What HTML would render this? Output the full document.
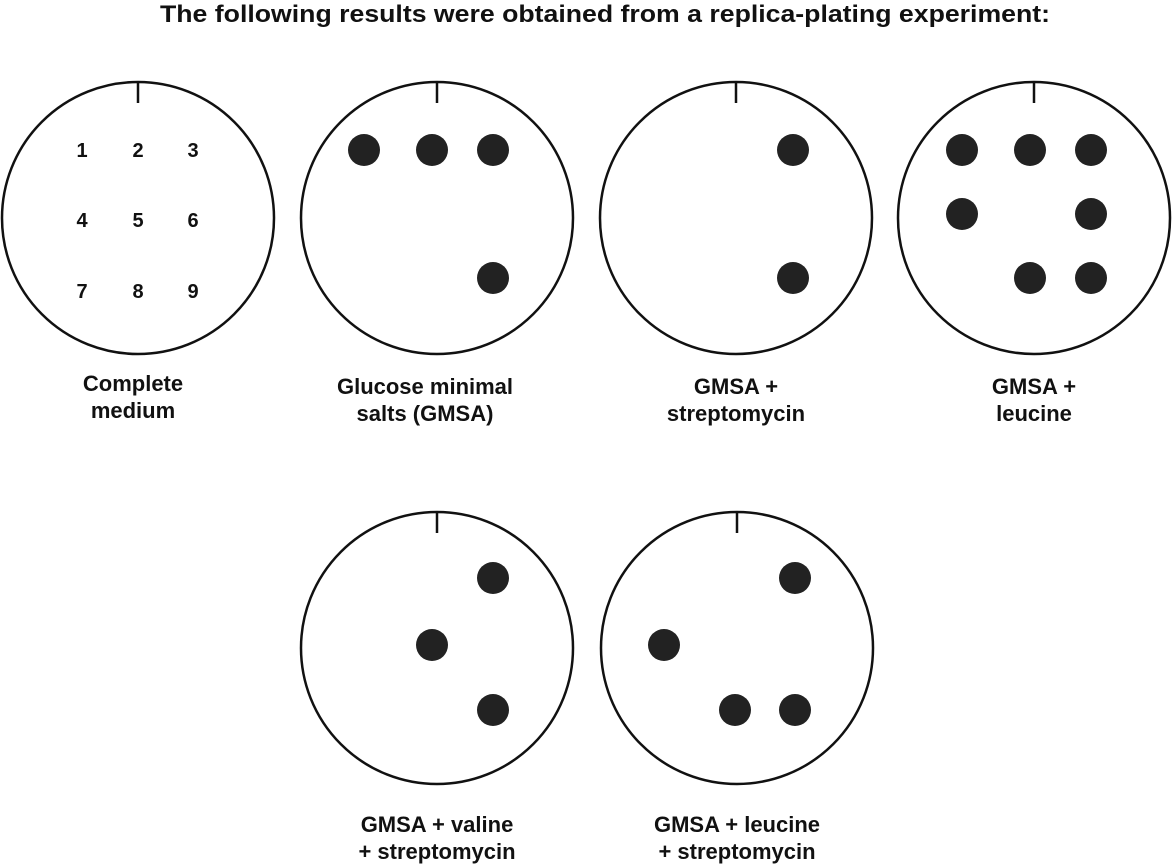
<!DOCTYPE html>
<html><head><meta charset="utf-8"><style>
html,body{margin:0;padding:0;background:#fff;}
svg{display:block;}
text{font-family:"Liberation Sans",sans-serif;font-weight:bold;fill:#111;}
</style></head><body>
<svg width="1173" height="864" viewBox="0 0 1173 864" xmlns="http://www.w3.org/2000/svg">
<text x="160" y="22" font-size="24" textLength="890" lengthAdjust="spacingAndGlyphs">The following results were obtained from a replica-plating experiment:</text>
<g fill="none" stroke="#111" stroke-width="2.5">
<circle cx="138" cy="218" r="136"/><line x1="138" y1="82" x2="138" y2="103"/>
<circle cx="437" cy="218" r="136"/><line x1="437" y1="82" x2="437" y2="103"/>
<circle cx="736" cy="218" r="136"/><line x1="736" y1="82" x2="736" y2="103"/>
<circle cx="1034" cy="218" r="136"/><line x1="1034" y1="82" x2="1034" y2="103"/>
<circle cx="437" cy="648" r="136"/><line x1="437" y1="512" x2="437" y2="533"/>
<circle cx="737" cy="648" r="136"/><line x1="737" y1="512" x2="737" y2="533"/>
</g>
<g font-size="20" text-anchor="middle">
<text x="82" y="157">1</text><text x="138" y="157">2</text><text x="193" y="157">3</text>
<text x="82" y="227">4</text><text x="138" y="227">5</text><text x="193" y="227">6</text>
<text x="82" y="298">7</text><text x="138" y="298">8</text><text x="193" y="298">9</text>
</g>
<g fill="#222">
<circle cx="364" cy="150" r="16"/><circle cx="432" cy="150" r="16"/><circle cx="493" cy="150" r="16"/><circle cx="493" cy="278" r="16"/>
<circle cx="793" cy="150" r="16"/><circle cx="793" cy="278" r="16"/>
<circle cx="962" cy="150" r="16"/><circle cx="1030" cy="150" r="16"/><circle cx="1091" cy="150" r="16"/>
<circle cx="962" cy="214" r="16"/><circle cx="1091" cy="214" r="16"/>
<circle cx="1030" cy="278" r="16"/><circle cx="1091" cy="278" r="16"/>
<circle cx="493" cy="578" r="16"/><circle cx="432" cy="645" r="16"/><circle cx="493" cy="710" r="16"/>
<circle cx="795" cy="578" r="16"/><circle cx="664" cy="645" r="16"/><circle cx="735" cy="710" r="16"/><circle cx="795" cy="710" r="16"/>
</g>
<g font-size="22" text-anchor="middle">
<text x="133" y="391">Complete</text><text x="133" y="418">medium</text>
<text x="425" y="394">Glucose minimal</text><text x="425" y="421">salts (GMSA)</text>
<text x="736" y="394">GMSA +</text><text x="736" y="421">streptomycin</text>
<text x="1034" y="394">GMSA +</text><text x="1034" y="421">leucine</text>
<text x="437" y="832">GMSA + valine</text><text x="437" y="859">+ streptomycin</text>
<text x="737" y="832">GMSA + leucine</text><text x="737" y="859">+ streptomycin</text>
</g>
</svg>
</body></html>
